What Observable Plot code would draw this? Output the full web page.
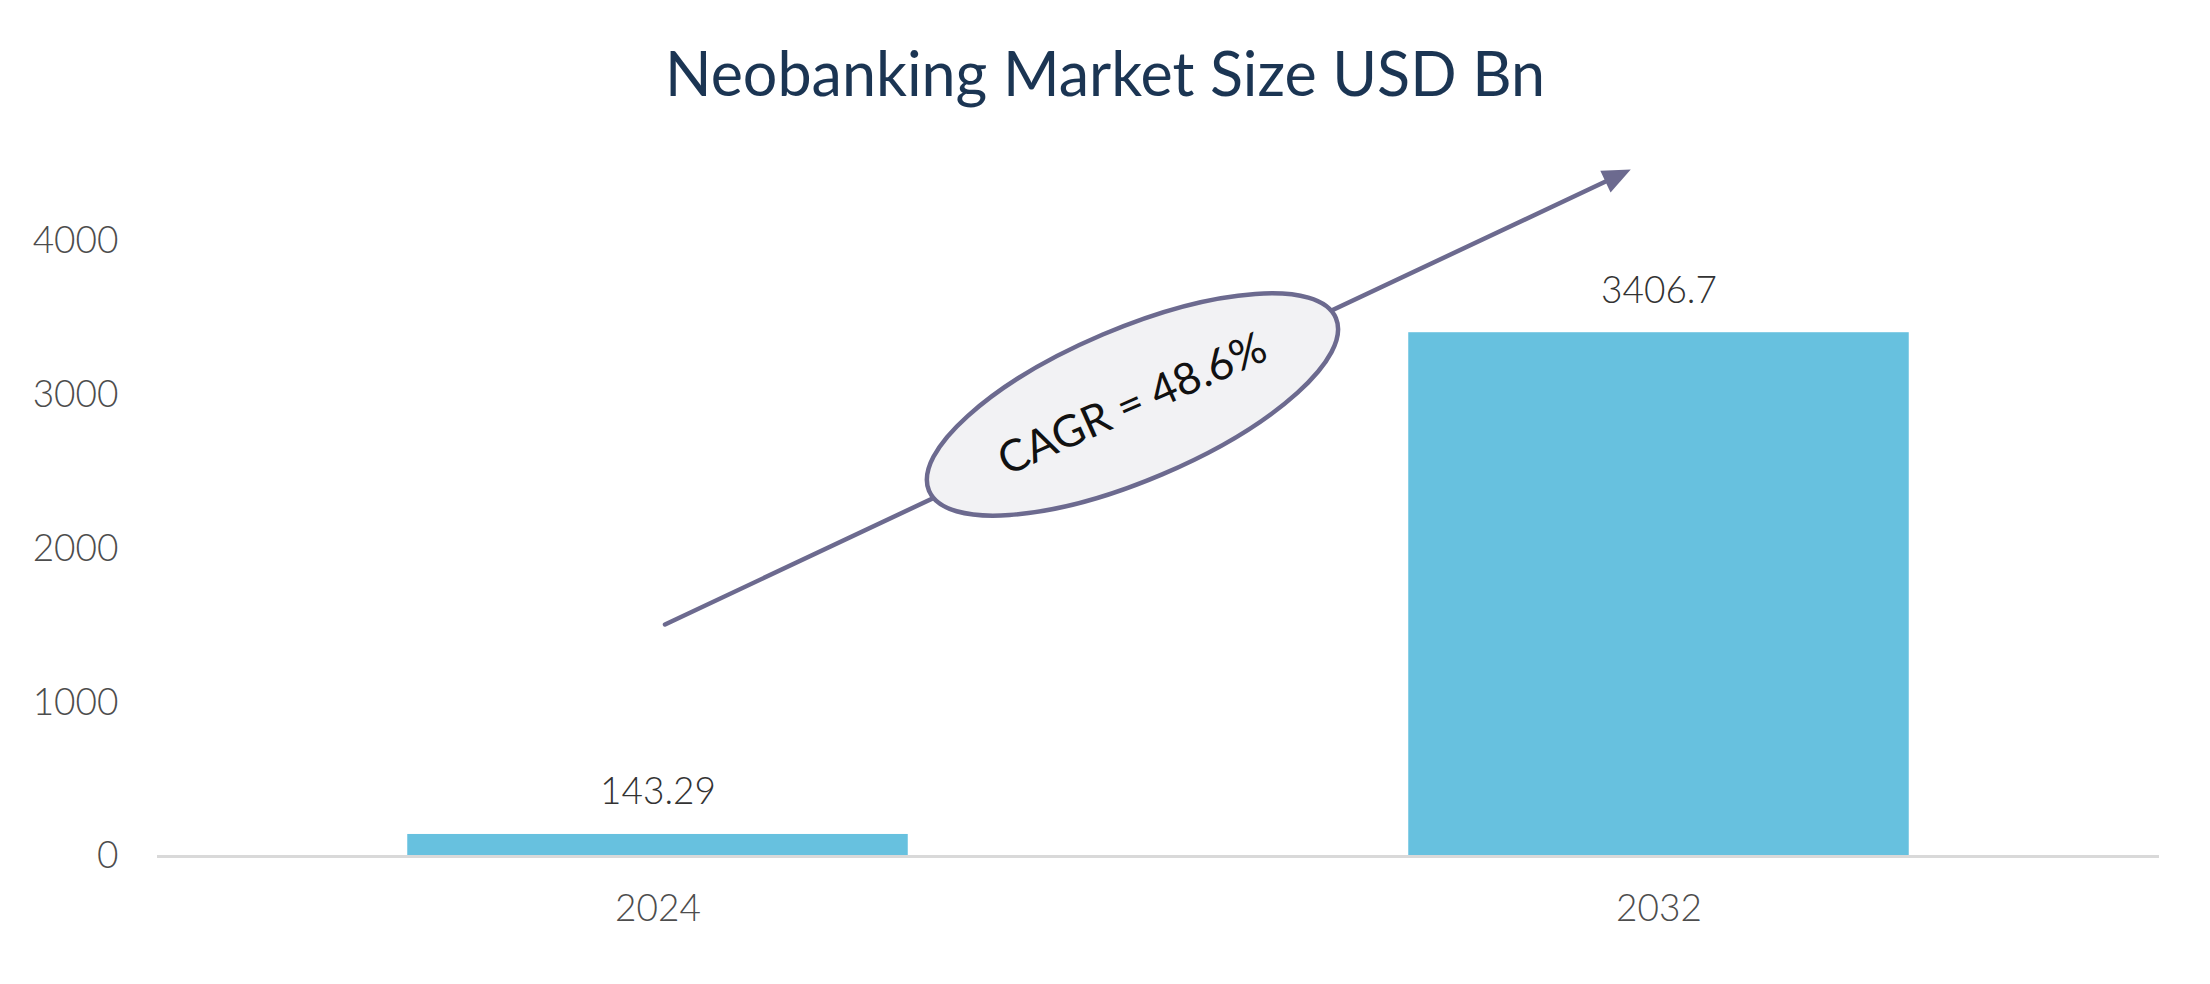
<!DOCTYPE html>
<html><head><meta charset="utf-8">
<script src="https://cdn.jsdelivr.net/npm/d3@7"></script>
<script src="https://cdn.jsdelivr.net/npm/@observablehq/plot@0.6"></script>
<style>
body{margin:0;background:#fff;}
#wrap{position:relative;width:2210px;height:984px;}
#wrap svg{position:absolute;left:0;top:0;}
#title{position:absolute;left:0;top:0;width:2210px;text-align:center;font-family:Lato,sans-serif;font-size:61px;line-height:61px;padding-top:42px;color:#1b3553;z-index:2;}
</style></head><body>
<div id="wrap"><div id="title">Neobanking Market Size USD Bn</div></div>
<script>
// Data
const years = ["2024", "2032"];
const marketSize = [143.29, 3406.7];
const valueLabels = ["143.29", "3406.7"];
const yTicks = [0, 1000, 2000, 3000, 4000];
// CAGR annotation (x in category-index units, y in USD Bn)
const arrowFrom = {x: 0.007, y: 1509};
const arrowTo = {x: 0.970, y: 4462};
const cagrLabel = "CAGR = 48.6%";
const cagrCenter = {x: 0.474, y: 2940};

const data = years.map((year, i) => ({i, year, value: marketSize[i], label: valueLabels[i]}));

const ellipseSymbol = {
  draw(ctx) {
    const a = 221, b = 76, k = 0.5523;
    ctx.moveTo(a, 0);
    ctx.bezierCurveTo(a, k * b, k * a, b, 0, b);
    ctx.bezierCurveTo(-k * a, b, -a, k * b, -a, 0);
    ctx.bezierCurveTo(-a, -k * b, -k * a, -b, 0, -b);
    ctx.bezierCurveTo(k * a, -b, a, -k * b, a, 0);
    ctx.closePath();
  }
};
const headSymbol = {
  draw(ctx) {
    ctx.moveTo(2, 0);
    ctx.lineTo(-26, -12);
    ctx.lineTo(-26, 12);
    ctx.closePath();
  }
};

const lineColor = "#6c6a8f";
const half = 0.25;

const chart = Plot.plot({
  width: 2210,
  height: 984,
  marginTop: 241,
  marginBottom: 128,
  marginLeft: 157,
  marginRight: 51,
  style: {fontFamily: "Lato, sans-serif", background: "transparent", color: "#595959"},
  x: {type: "linear", domain: [-0.5, 1.5]},
  y: {domain: [0, 4000]},
  marks: [
    Plot.rectY(data, {x1: d => d.i - half, x2: d => d.i + half, y: "value", fill: "#67c1df"}),
    Plot.ruleY([0], {stroke: "#d9d9d9", strokeWidth: 3}),
    Plot.text(data, {x: "i", y: "value", text: "label", dy: -42, fontSize: 37, fontWeight: 300, fill: "#333333"}),
    Plot.axisY({ticks: yTicks, tickFormat: d => String(d), tickSize: 0, tickPadding: 39, fontSize: 37, fontWeight: 300, label: null, fill: "#4d4d4d"}),
    Plot.axisX({ticks: [0, 1], tickFormat: i => years[i], tickSize: 0, tickPadding: 38, fontSize: 37, fontWeight: 300, label: null, fill: "#4d4d4d"}),
    Plot.arrow([{}], {x1: () => arrowFrom.x, y1: () => arrowFrom.y, x2: () => arrowTo.x, y2: () => arrowTo.y,
      stroke: lineColor, strokeWidth: 4.5, headLength: 0, insetEnd: 10}),
    Plot.dot([arrowTo], {x: "x", y: "y", symbol: headSymbol, rotate: -25.2, fill: lineColor, stroke: "none"}),
    Plot.dot([cagrCenter], {x: "x", y: "y", symbol: ellipseSymbol, rotate: -23, fill: "#f2f2f4", stroke: lineColor, strokeWidth: 4.5}),
    Plot.text([cagrCenter], {x: "x", y: "y", text: () => cagrLabel, rotate: -24, fontSize: 44, fontWeight: 400, fill: "#111111"})
  ]
});
document.getElementById("wrap").appendChild(chart);
</script>
</body></html>
